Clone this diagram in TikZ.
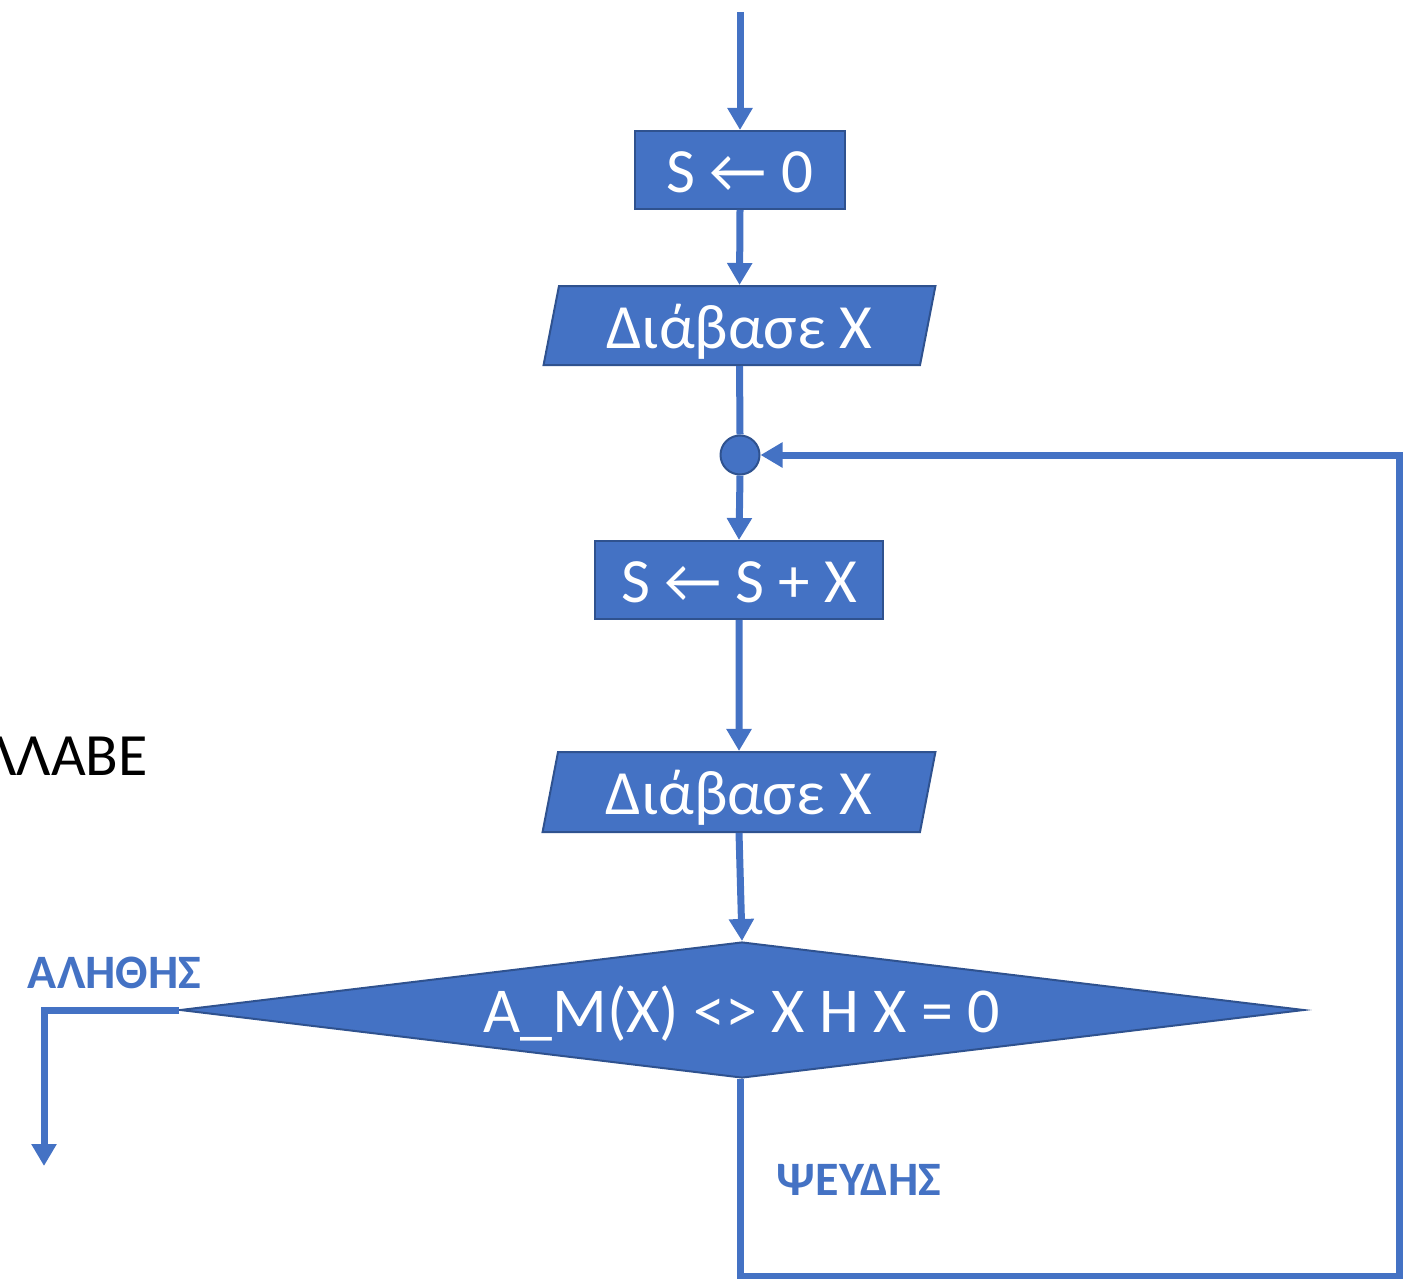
\documentclass[tikz,border=0pt]{standalone}
\usepackage{fontspec}
\setmainfont{Carlito}
\usetikzlibrary{arrows.meta,shapes.geometric}
\definecolor{flowblue}{HTML}{4472C4}
\definecolor{flowedge}{HTML}{2F528F}
\tikzset{
  boxtext/.style={text=white, font=\fontsize{63}{70}\selectfont, inner sep=0pt,
    text height=45.6pt, text depth=0pt},
  procbox/.style={rectangle, fill=flowblue, draw=flowedge, line width=2pt, boxtext},
  iobox/.style={trapezium, trapezium left angle=76, trapezium right angle=104,
    trapezium stretches=true, fill=flowblue, draw=flowedge, line width=2pt, boxtext},
  decbox/.style={diamond, shape aspect=8.3, fill=flowblue, draw=flowedge, line width=2pt,
    text=white, font=\fontsize{64}{70}\selectfont, inner sep=0pt,
    text height=44pt, text depth=0pt},
  joint/.style={circle, fill=flowblue, draw=flowedge, line width=2pt, inner sep=0pt,
    minimum size=39pt},
  flow/.style={draw=flowblue, line width=7pt,
    -{Triangle[width=24pt,length=22pt]}},
  flowplain/.style={draw=flowblue, line width=7pt},
  branchlabel/.style={text=flowblue, font=\fontsize{48}{52}\selectfont\bfseries, inner sep=0pt},
}
\begin{document}
\begin{tikzpicture}[x=1pt,y=-1pt]
\useasboundingbox (0,0) rectangle (1413,1279);

% entry point
\coordinate (entry) at (740,12);

% steps
\node[procbox, minimum width=210pt, minimum height=78pt] (init) at (740,170) {S ← 0};
\node[iobox, minimum width=393pt, minimum height=79pt] (read1) at (739.5,325.5) {Διάβασε Χ};
\node[joint] (merge) at (740,455) {};
\node[procbox, minimum width=288pt, minimum height=78pt] (acc) at (739,580) {S ← S + X};
\node[iobox, minimum width=394pt, minimum height=80pt] (read2) at (739,792) {Διάβασε Χ};
\node[decbox, minimum width=1124pt, minimum height=136pt] (test) at (742,1010) {A\_M(X) <> X H X = 0};

% side labels
\node[anchor=base east, font=\fontsize{60}{64}\selectfont, inner sep=0pt] (loopword) at (148,775) {ΛΛΑΒΕ};
\node[branchlabel, anchor=base] (truelbl) at (114.5,988) {ΑΛΗΘΗΣ};
\node[branchlabel, anchor=base] (falselbl) at (859,1195) {ΨΕΥΔΗΣ};

% loop-back route and exit
\coordinate (loopbl) at (740,1276);
\coordinate (loopbr) at (1399,1276);
\coordinate (looptr) at (1399,455);
\coordinate (exitcorner) at (44,1010);
\coordinate (exitend) at (44,1166);

% connectors
\draw[flow] (entry) -- (init.north);
\draw[flow] (init.south) -- (read1.north);
\draw[flowplain] (read1.south) -- (merge.north);
\draw[flow] (merge.south) -- (acc.north);
\draw[flow] (acc.south) -- (read2.north);
\draw[flow] (read2.south) -- (test.north);
\draw[flow] (test.south -| loopbl) -- (loopbl) -- (loopbr) -- (looptr) -- (merge.east);
\draw[flow] (test.west) -- (exitcorner) -- (exitend);
\end{tikzpicture}
\end{document}
